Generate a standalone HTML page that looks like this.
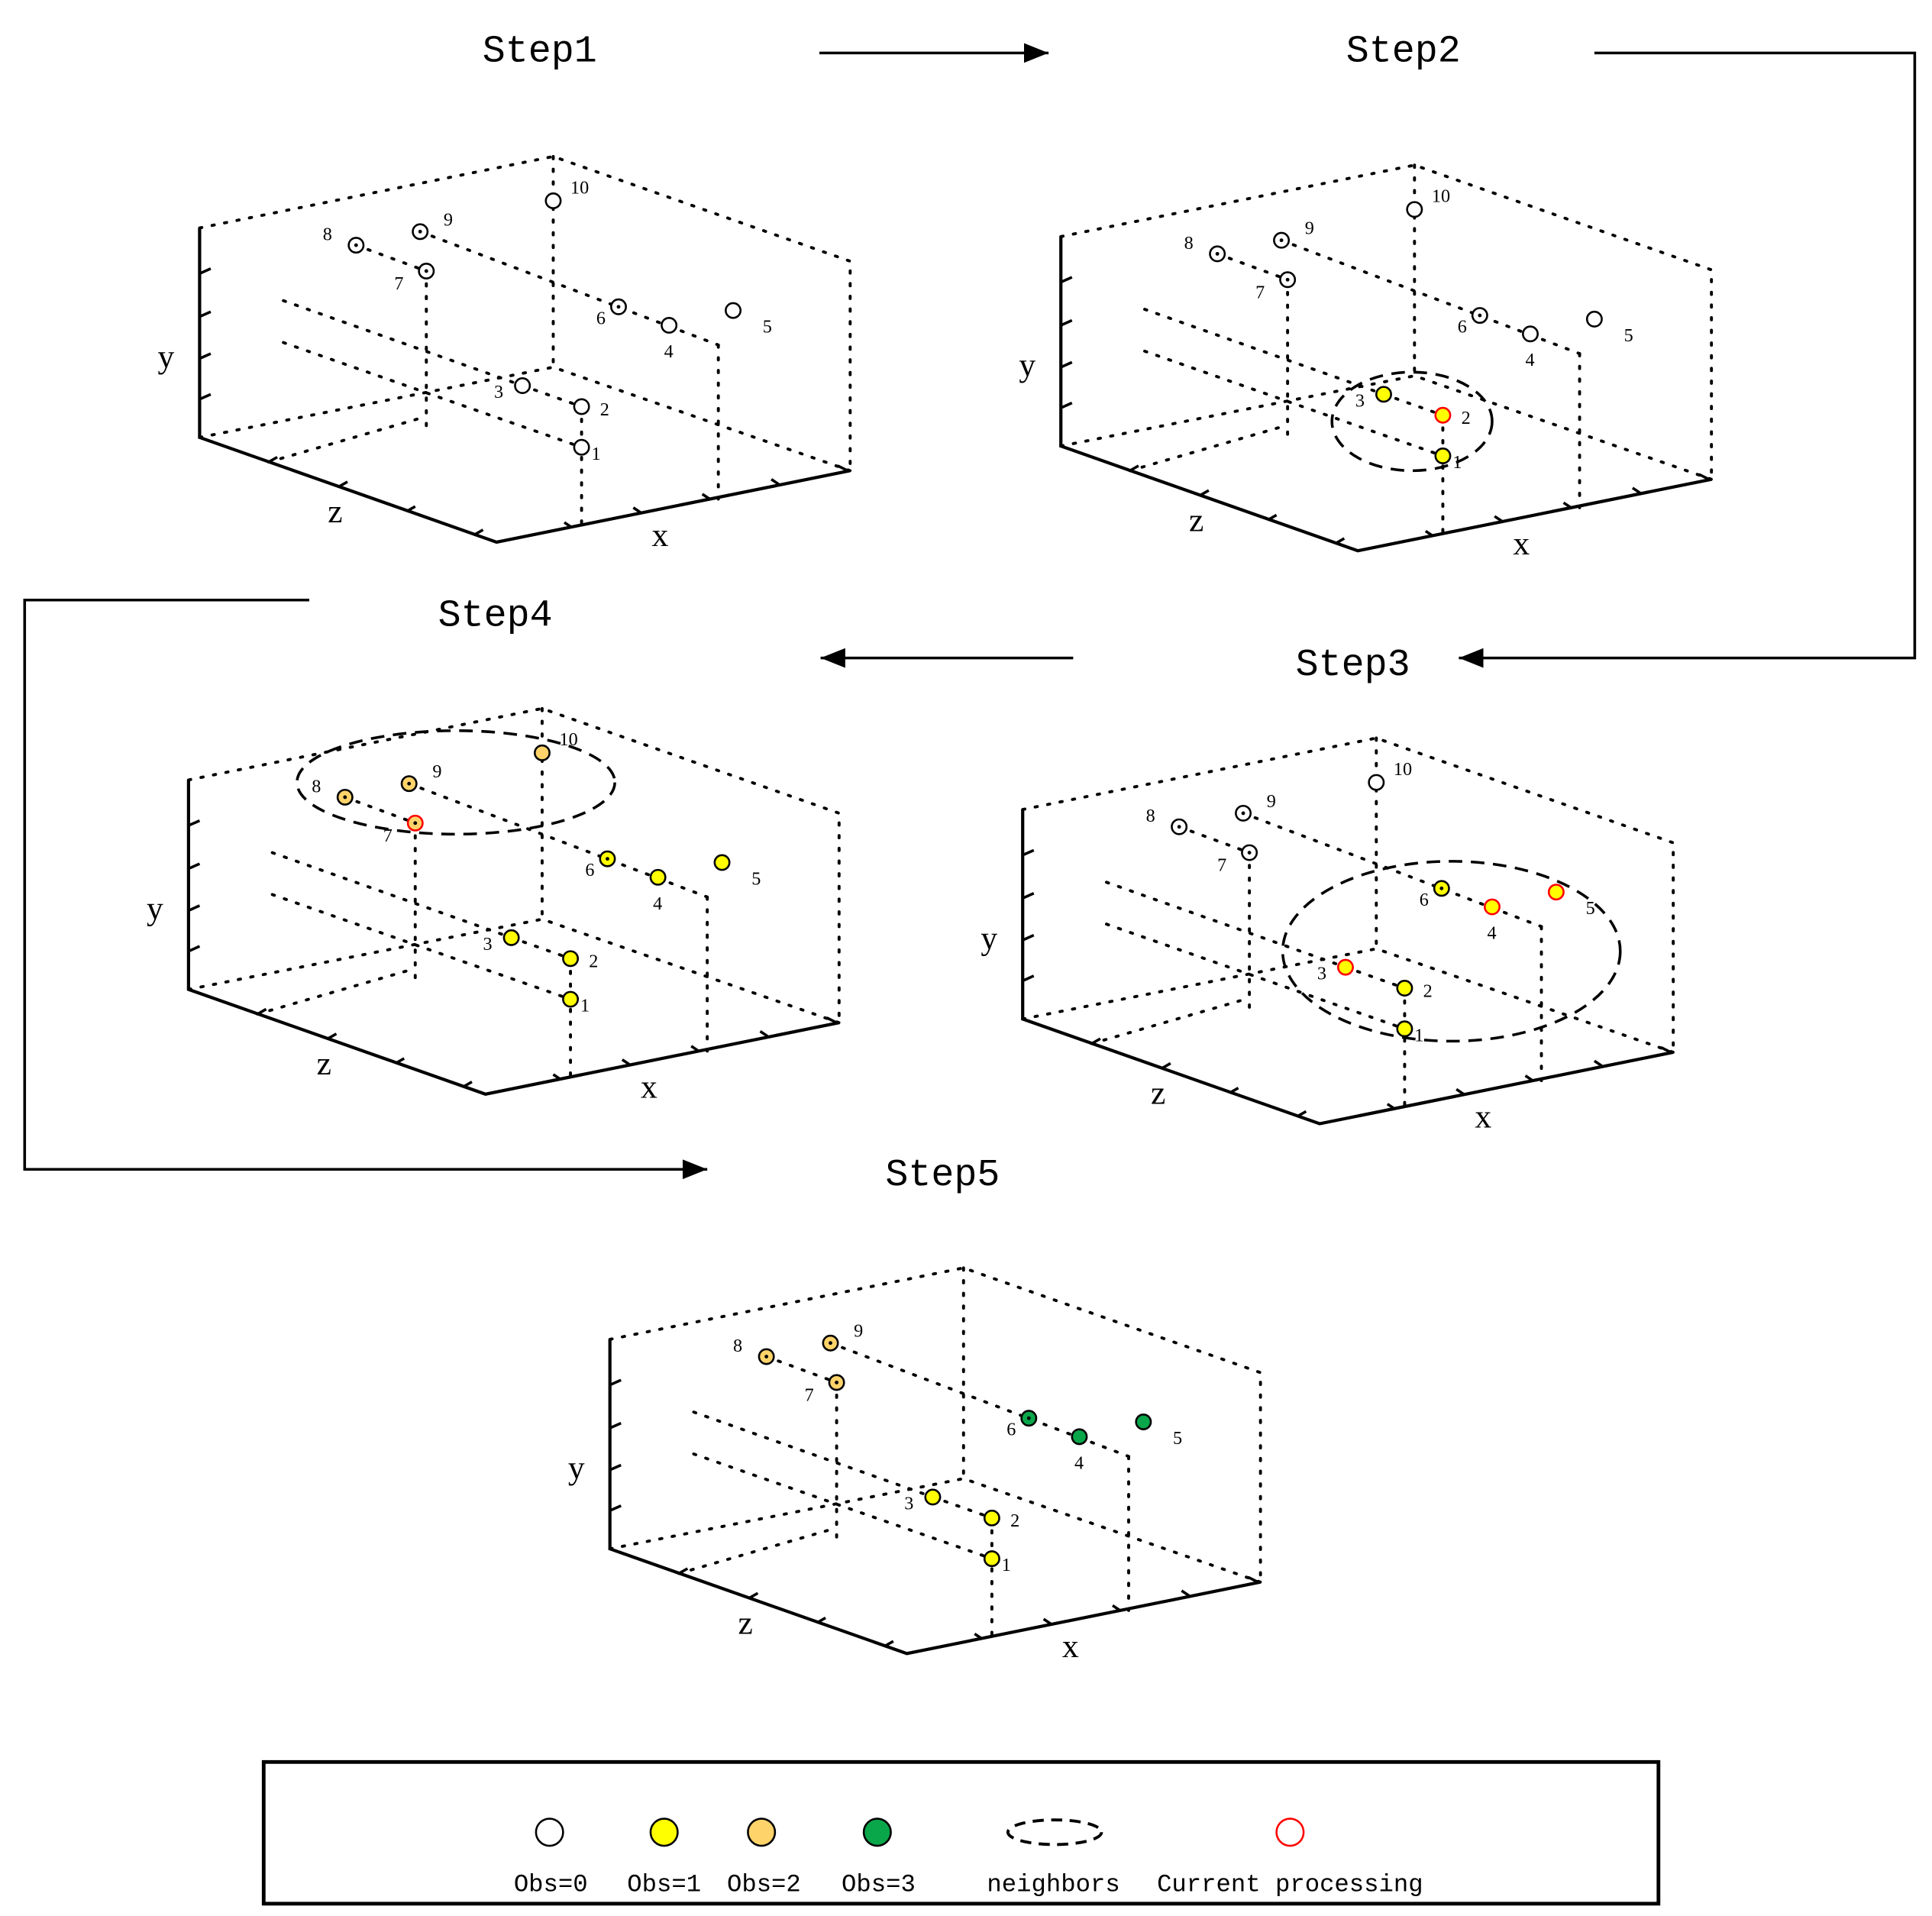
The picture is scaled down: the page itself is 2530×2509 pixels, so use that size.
<!DOCTYPE html>
<html><head><meta charset="utf-8"><style>html,body{margin:0;padding:0;background:#fff}svg{display:block}</style></head>
<body>
<svg width="2530" height="2509" viewBox="0 0 1568 1555" xmlns="http://www.w3.org/2000/svg" font-family="Liberation Serif, serif">
<defs>
<marker id="ah" viewBox="0 0 20 16" refX="20" refY="8" markerWidth="20" markerHeight="16" markerUnits="userSpaceOnUse" orient="auto"><path d="M0,0 L20,8 L0,16 z" fill="#000"/></marker>
<g id="frame" fill="none" stroke="#000">
 <g stroke-width="2.4" stroke-dasharray="1.8 8.5" stroke-linecap="round">
  <path d="M162,185 L449,127 L690,212 L690,382"/>
  <path d="M449,127 L449,298"/>
  <path d="M162,355 L449,298 L690,382"/>
  <path d="M218,375 L346,338"/>
  <path d="M346,220 L346,350"/>
  <path d="M472,330 L472,425"/>
  <path d="M583,280 L583,405"/>
  <path d="M289,199 L346,220"/>
  <path d="M341,188 L583,280"/>
  <path d="M230,244 L472,330"/>
  <path d="M230,278 L472,363"/>
 </g>
 <path d="M162,185 L162,355 L403,440 L690,382" stroke-width="2.6"/>
 <g stroke-width="2.2">
  <path d="M162,222 l9,-4 M162,257 l9,-4 M162,291 l9,-4 M162,324 l9,-4"/>
  <path d="M218,375 l7,-4 M275,395 l7,-4 M330,415 l7,-4 M385,434 l7,-4"/>
  <path d="M464,428 l-6,-4 M520,416 l-6,-4 M576,405 l-6,-4 M632,393 l-6,-4 M688,382 l-8,-4"/>
 </g>
</g>
</defs>

<g font-family="Liberation Mono, monospace" font-size="31" text-anchor="middle">
<text x="438" y="50">Step1</text>
<text x="1139" y="50">Step2</text>
<text x="402" y="508">Step4</text>
<text x="1098" y="548">Step3</text>
<text x="765" y="962">Step5</text>
</g>

<g fill="none" stroke="#000" stroke-width="2.2">
<path d="M665,43 L851,43" marker-end="url(#ah)"/>
<path d="M1294,43 L1554,43 L1554,534 L1184,534" marker-end="url(#ah)"/>
<path d="M871,534 L666,534" marker-end="url(#ah)"/>
<path d="M251,487 L20,487 L20,949 L574,949" marker-end="url(#ah)"/>
</g>

<!-- Step1 -->
<g>
<use href="#frame"/>
<g stroke="#000" stroke-width="1.6">
<circle cx="449" cy="163" r="6" fill="#fff"/><circle cx="341" cy="188" r="6" fill="#fff"/><circle cx="289" cy="199" r="6" fill="#fff"/><circle cx="346" cy="220" r="6" fill="#fff"/><circle cx="502" cy="249" r="6" fill="#fff"/><circle cx="543" cy="264" r="6" fill="#fff"/><circle cx="595" cy="252" r="6" fill="#fff"/><circle cx="424" cy="313" r="6" fill="#fff"/><circle cx="472" cy="330" r="6" fill="#fff"/><circle cx="472" cy="363" r="6" fill="#fff"/>
</g>
<g fill="#000"><circle cx="341" cy="188" r="1.5"/><circle cx="289" cy="199" r="1.5"/><circle cx="346" cy="220" r="1.5"/><circle cx="502" cy="249" r="1.5"/></g>
<g font-size="15"><text x="463" y="157">10</text><text x="360" y="183">9</text><text x="262" y="195">8</text><text x="320" y="235">7</text><text x="484" y="263">6</text><text x="539" y="290">4</text><text x="619" y="270">5</text><text x="401" y="323">3</text><text x="487" y="337">2</text><text x="480" y="373">1</text></g>
<g font-size="27"><text x="128" y="298">y</text><text x="266" y="424">z</text><text x="529" y="443">x</text></g>
</g>

<!-- Step2 -->
<g transform="translate(699,7)">
<use href="#frame"/>
<g stroke="#000" stroke-width="1.6">
<circle cx="449" cy="163" r="6" fill="#fff"/><circle cx="341" cy="188" r="6" fill="#fff"/><circle cx="289" cy="199" r="6" fill="#fff"/><circle cx="346" cy="220" r="6" fill="#fff"/><circle cx="502" cy="249" r="6" fill="#fff"/><circle cx="543" cy="264" r="6" fill="#fff"/><circle cx="595" cy="252" r="6" fill="#fff"/><circle cx="424" cy="313" r="6" fill="#ff0"/><circle cx="472" cy="330" r="6" fill="#ff0" stroke="#f00"/><circle cx="472" cy="363" r="6" fill="#ff0"/>
</g>
<g fill="#000"><circle cx="341" cy="188" r="1.5"/><circle cx="289" cy="199" r="1.5"/><circle cx="346" cy="220" r="1.5"/><circle cx="502" cy="249" r="1.5"/></g>
<ellipse cx="447" cy="335" rx="65" ry="40" fill="none" stroke="#000" stroke-width="2.2" stroke-dasharray="11 7"/>
<g font-size="15"><text x="463" y="157">10</text><text x="360" y="183">9</text><text x="262" y="195">8</text><text x="320" y="235">7</text><text x="484" y="263">6</text><text x="539" y="290">4</text><text x="619" y="270">5</text><text x="401" y="323">3</text><text x="487" y="337">2</text><text x="480" y="373">1</text></g>
<g font-size="27"><text x="128" y="298">y</text><text x="266" y="424">z</text><text x="529" y="443">x</text></g>
</g>

<!-- Step4 -->
<g transform="translate(-9,448)">
<use href="#frame"/>
<g stroke="#000" stroke-width="1.6">
<circle cx="449" cy="163" r="6" fill="#fdd36a"/><circle cx="341" cy="188" r="6" fill="#fdd36a"/><circle cx="289" cy="199" r="6" fill="#fdd36a"/><circle cx="346" cy="220" r="6" fill="#fdd36a" stroke="#f00"/><circle cx="502" cy="249" r="6" fill="#ff0"/><circle cx="543" cy="264" r="6" fill="#ff0"/><circle cx="595" cy="252" r="6" fill="#ff0"/><circle cx="424" cy="313" r="6" fill="#ff0"/><circle cx="472" cy="330" r="6" fill="#ff0"/><circle cx="472" cy="363" r="6" fill="#ff0"/>
</g>
<g fill="#000"><circle cx="341" cy="188" r="1.5"/><circle cx="289" cy="199" r="1.5"/><circle cx="346" cy="220" r="1.5"/><circle cx="502" cy="249" r="1.5"/></g>
<ellipse cx="379" cy="187" rx="129" ry="42" fill="none" stroke="#000" stroke-width="2.2" stroke-dasharray="11 7"/>
<g font-size="15"><text x="463" y="157">10</text><text x="360" y="183">9</text><text x="262" y="195">8</text><text x="320" y="235">7</text><text x="484" y="263">6</text><text x="539" y="290">4</text><text x="619" y="270">5</text><text x="401" y="323">3</text><text x="487" y="337">2</text><text x="480" y="373">1</text></g>
<g font-size="27"><text x="128" y="298">y</text><text x="266" y="424">z</text><text x="529" y="443">x</text></g>
</g>

<!-- Step3 -->
<g transform="translate(668,472)">
<use href="#frame"/>
<g stroke="#000" stroke-width="1.6">
<circle cx="449" cy="163" r="6" fill="#fff"/><circle cx="341" cy="188" r="6" fill="#fff"/><circle cx="289" cy="199" r="6" fill="#fff"/><circle cx="346" cy="220" r="6" fill="#fff"/><circle cx="502" cy="249" r="6" fill="#ff0"/><circle cx="543" cy="264" r="6" fill="#ff0" stroke="#f00"/><circle cx="595" cy="252" r="6" fill="#ff0" stroke="#f00"/><circle cx="424" cy="313" r="6" fill="#ff0" stroke="#f00"/><circle cx="472" cy="330" r="6" fill="#ff0"/><circle cx="472" cy="363" r="6" fill="#ff0"/>
</g>
<g fill="#000"><circle cx="341" cy="188" r="1.5"/><circle cx="289" cy="199" r="1.5"/><circle cx="346" cy="220" r="1.5"/><circle cx="502" cy="249" r="1.5"/></g>
<ellipse cx="510" cy="300" rx="137" ry="73" fill="none" stroke="#000" stroke-width="2.2" stroke-dasharray="11 7"/>
<g font-size="15"><text x="463" y="157">10</text><text x="360" y="183">9</text><text x="262" y="195">8</text><text x="320" y="235">7</text><text x="484" y="263">6</text><text x="539" y="290">4</text><text x="619" y="270">5</text><text x="401" y="323">3</text><text x="487" y="337">2</text><text x="480" y="373">1</text></g>
<g font-size="27"><text x="128" y="298">y</text><text x="266" y="424">z</text><text x="529" y="443">x</text></g>
</g>

<!-- Step5 -->
<g transform="translate(333,902)">
<use href="#frame"/>
<g stroke="#000" stroke-width="1.6">
<circle cx="341" cy="188" r="6" fill="#fdd36a"/><circle cx="289" cy="199" r="6" fill="#fdd36a"/><circle cx="346" cy="220" r="6" fill="#fdd36a"/><circle cx="502" cy="249" r="6" fill="#0aa64a"/><circle cx="543" cy="264" r="6" fill="#0aa64a"/><circle cx="595" cy="252" r="6" fill="#0aa64a"/><circle cx="424" cy="313" r="6" fill="#ff0"/><circle cx="472" cy="330" r="6" fill="#ff0"/><circle cx="472" cy="363" r="6" fill="#ff0"/>
</g>
<g fill="#000"><circle cx="341" cy="188" r="1.5"/><circle cx="289" cy="199" r="1.5"/><circle cx="346" cy="220" r="1.5"/><circle cx="502" cy="249" r="1.5"/></g>
<g font-size="15"><text x="360" y="183">9</text><text x="262" y="195">8</text><text x="320" y="235">7</text><text x="484" y="263">6</text><text x="539" y="290">4</text><text x="619" y="270">5</text><text x="401" y="323">3</text><text x="487" y="337">2</text><text x="480" y="373">1</text></g>
<g font-size="27"><text x="128" y="298">y</text><text x="266" y="424">z</text><text x="529" y="443">x</text></g>
</g>

<rect x="214" y="1430" width="1132" height="115" fill="none" stroke="#000" stroke-width="3"/>
<g stroke-width="1.6">
<circle cx="446" cy="1487" r="11" fill="#fff" stroke="#000"/>
<circle cx="539" cy="1487" r="11" fill="#ff0" stroke="#000"/>
<circle cx="618" cy="1487" r="11" fill="#fdd36a" stroke="#000"/>
<circle cx="712" cy="1487" r="11" fill="#0aa64a" stroke="#000"/>
<ellipse cx="856" cy="1487" rx="38" ry="10" fill="none" stroke="#000" stroke-width="2.4" stroke-dasharray="9 6"/>
<circle cx="1047" cy="1487" r="11" fill="#fff" stroke="#f00"/>
</g>
<g font-family="Liberation Mono, monospace" font-size="20" text-anchor="middle">
<text x="447" y="1535">Obs=0</text><text x="539" y="1535">Obs=1</text><text x="620" y="1535">Obs=2</text><text x="713" y="1535">Obs=3</text><text x="855" y="1535">neighbors</text><text x="1047" y="1535">Current processing</text>
</g>
</svg>
</body></html>
